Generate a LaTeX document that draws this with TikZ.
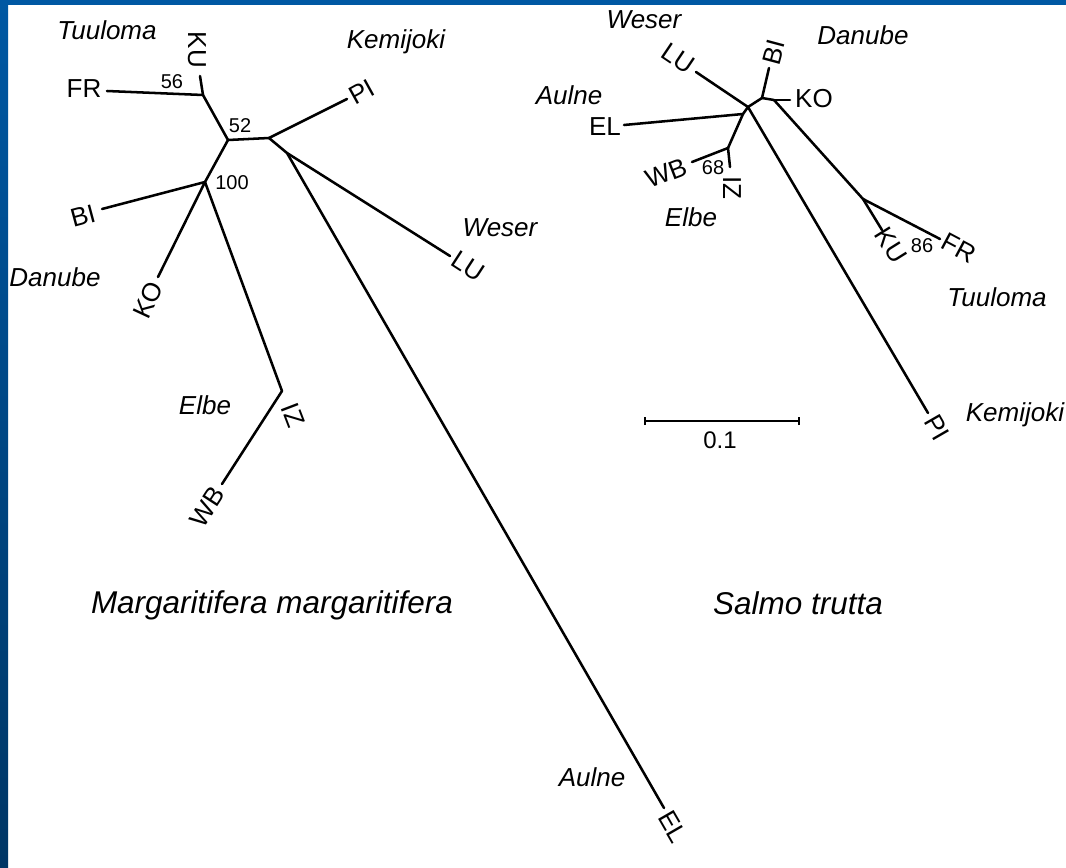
\documentclass[tikz,border=0pt]{standalone}
\usepackage{fontspec}
\setmainfont{Liberation Sans}
\begin{document}
\begin{tikzpicture}[x=0.75pt,y=-0.75pt,
  br/.style={line width=1.9pt,line cap=round,line join=round},
  leaf/.style={font=\fontsize{19.5}{20}\selectfont,inner sep=0pt},
  boot/.style={font=\fontsize{15}{16}\selectfont,inner sep=0pt},
  river/.style={font=\fontsize{19.5}{20}\selectfont\itshape,inner sep=0pt},
  species/.style={font=\fontsize{23.6}{25}\selectfont\itshape,inner sep=0pt}]
\definecolor{bluetop}{HTML}{0058A3}
\definecolor{bluebot}{HTML}{003665}
\useasboundingbox (0,0) rectangle (1066,867);
\fill[white] (0,0) rectangle (1066,867);
\fill[bluetop] (0,0) rectangle (1066,5);
\shade[top color=bluetop,bottom color=bluebot] (0,0) rectangle (8,867);

% ---------- left tree ----------
\coordinate (Lfr) at (107,91);
\coordinate (Lku) at (200,76);
\coordinate (Ln1) at (203,95);
\coordinate (La) at (228,140);
\coordinate (Lb) at (269,138);
\coordinate (Lpi) at (347,99);
\coordinate (Lc) at (287,153);
\coordinate (Llu) at (450,256);
\coordinate (Lel) at (664,808);
\coordinate (Ld) at (205,182);
\coordinate (Lbi) at (102,209);
\coordinate (Lko) at (158,277);
\coordinate (Liz) at (282,391);
\coordinate (Lwb) at (222,484);
\draw[br] (Lfr) -- (Ln1);
\draw[br] (Lku) -- (Ln1);
\draw[br] (Ln1) -- (La);
\draw[br] (La) -- (Lb);
\draw[br] (Lb) -- (Lpi);
\draw[br] (Lb) -- (Lc);
\draw[br] (Lc) -- (Llu);
\draw[br] (Lc) -- (Lel);
\draw[br] (La) -- (Ld);
\draw[br] (Ld) -- (Lbi);
\draw[br] (Ld) -- (Lko);
\draw[br] (Ld) -- (Liz);
\draw[br] (Liz) -- (Lwb);

\node[leaf] (tLfr) at (84,89) {FR};
\node[leaf,rotate=-90] (tLku) at (197,50) {KU};
\node[boot] (b56) at (172,82) {56};
\node[boot] (b52) at (240,126) {52};
\node[boot] (b100) at (232,183) {100};
\node[leaf,rotate=29] (tLpi) at (362,92) {PI};
\node[leaf,rotate=15] (tLbi) at (83,216) {BI};
\node[leaf,rotate=65] (tLko) at (148,300) {KO};
\node[leaf,rotate=-33] (tLlu) at (468,266) {LU};
\node[leaf,rotate=-69] (tLiz) at (293,415) {IZ};
\node[leaf,rotate=57] (tLwb) at (207,507) {WB};
\node[leaf,rotate=-60] (tLel) at (673,827) {EL};
\node[river] (rLtu) at (107,30) {Tuuloma};
\node[river] (rLke) at (396,42) {Kemijoki};
\node[river] (rLwe) at (500,228) {Weser};
\node[river] (rLda) at (55,277) {Danube};
\node[river] (rLel) at (205,405) {Elbe};
\node[river] (rLau) at (592,777) {Aulne};
\node[species] (spL) at (272,605) {Margaritifera margaritifera};

% ---------- right tree ----------
\coordinate (Rn0) at (748,107);
\coordinate (Re) at (762,98);
\coordinate (Rf) at (774,100);
\coordinate (Rbi) at (769,68);
\coordinate (Rko) at (790,100);
\coordinate (Rg) at (863,199);
\coordinate (Rku) at (882,230);
\coordinate (Rfr) at (940,239);
\coordinate (Rlu) at (696,72);
\coordinate (Ri) at (743,114);
\coordinate (Rel) at (624,125);
\coordinate (Rh) at (728,148);
\coordinate (Rwb) at (692,162);
\coordinate (Riz) at (730,167);
\coordinate (Rpi) at (928,413);
\draw[br] (Rn0) -- (Rlu);
\draw[br] (Rn0) -- (Re);
\draw[br] (Re) -- (Rbi);
\draw[br] (Re) -- (Rf);
\draw[br] (Rf) -- (Rko);
\draw[br] (Rf) -- (Rg);
\draw[br] (Rg) -- (Rku);
\draw[br] (Rg) -- (Rfr);
\draw[br] (Rn0) -- (Ri);
\draw[br] (Ri) -- (Rel);
\draw[br] (Ri) -- (Rh);
\draw[br] (Rh) -- (Rwb);
\draw[br] (Rh) -- (Riz);
\draw[br] (Rn0) -- (Rpi);

\node[leaf,rotate=-34] (tRlu) at (678,58) {LU};
\node[leaf,rotate=75] (tRbi) at (774,52) {BI};
\node[leaf] (tRko) at (814,99) {KO};
\node[leaf] (tRel) at (605,127) {EL};
\node[leaf,rotate=21] (tRwb) at (666,173) {WB};
\node[boot] (b68) at (713,168) {68};
\node[leaf,rotate=-90] (tRiz) at (732,188) {IZ};
\node[leaf,rotate=-58] (tRku) at (891,245) {KU};
\node[boot] (b86) at (922,246) {86};
\node[leaf,rotate=-28] (tRfr) at (959,248) {FR};
\node[leaf,rotate=-60] (tRpi) at (937,428) {PI};
\node[river] (rRwe) at (644,20) {Weser};
\node[river] (rRda) at (863,35) {Danube};
\node[river] (rRau) at (569,95) {Aulne};
\node[river] (rRel) at (691,217) {Elbe};
\node[river] (rRtu) at (997,297) {Tuuloma};
\node[river] (rRke) at (1015,415) {Kemijoki};
\node[species] (spR) at (798,603) {Salmo trutta};

% ---------- scale bar ----------
\coordinate (s1) at (645,421);
\coordinate (s2) at (799,421);
\draw[line width=1.9pt] (s1) -- (s2);
\draw[line width=1.9pt] ([yshift=-3pt]s1) -- ([yshift=3pt]s1);
\draw[line width=1.9pt] ([yshift=-3pt]s2) -- ([yshift=3pt]s2);
\node[font=\fontsize{18}{19}\selectfont,inner sep=0pt] (sc) at (720,440) {0.1};
\end{tikzpicture}
\end{document}
